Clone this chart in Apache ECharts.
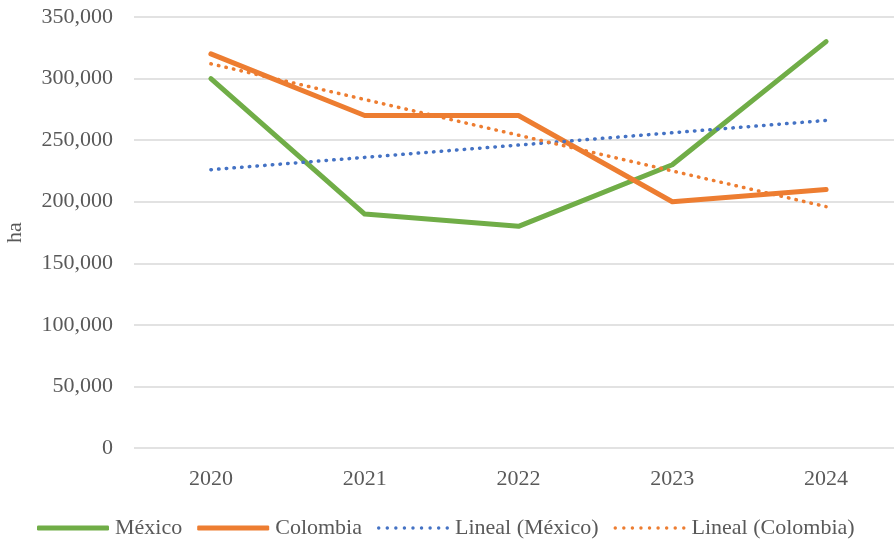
<!DOCTYPE html>
<html>
<head>
<meta charset="utf-8">
<script src="https://cdn.jsdelivr.net/npm/echarts@6/dist/echarts.min.js"></script>
<style>
  html, body { margin: 0; padding: 0; background: #fff; }
  #main { width: 894px; height: 542px; }
</style>
</head>
<body>
<div id="main"></div>
<script>
// data
var years = ['2020', '2021', '2022', '2023', '2024'];
var mexico = [300000, 190000, 180000, 230000, 330000];
var colombia = [320000, 270000, 270000, 200000, 210000];
var trendMexico = [226000, 236000, 246000, 256000, 266000];
var trendColombia = [312000, 283000, 254000, 225000, 196000];

var textColor = '#595959';
var font = 'Liberation Serif';

var chart = echarts.init(document.getElementById('main'));
var dots = function (color) {
  return { color: color, width: 3.5, type: [0.5, 7.2], cap: 'round' };
};

// legend icon: a row of small round dots
var dotIcon = 'path://';
for (var i = 0; i < 9; i++) {
  var cx = 1.6 + i * 7.9;
  dotIcon += 'M' + (cx - 1.6) + ' 1.6a1.6 1.6 0 1 0 3.2 0a1.6 1.6 0 1 0 -3.2 0z';
}

var option = {
  animation: false,
  textStyle: { fontFamily: font },
  grid: { left: 134, right: -9, top: 17, bottom: 94, outerBoundsMode: 'none' },
  legend: {
    bottom: -2,
    left: 32,
    itemWidth: 72,
    itemHeight: 5,
    itemGap: 15,
    symbolKeepAspect: true,
    textStyle: { color: textColor, fontSize: 22, fontFamily: font, padding: [0, 0, 0, 1] },
    data: [
      { name: 'México', icon: 'roundRect' },
      { name: 'Colombia', icon: 'roundRect' },
      { name: 'Lineal (México)', icon: dotIcon },
      { name: 'Lineal (Colombia)', icon: dotIcon }
    ]
  },
  xAxis: {
    type: 'category',
    data: years,
    boundaryGap: true,
    axisLine: { show: false },
    axisTick: { show: false },
    axisLabel: { color: textColor, fontSize: 22, margin: 20 }
  },
  yAxis: {
    type: 'value',
    min: 0,
    max: 350000,
    interval: 50000,
    name: 'ha',
    nameLocation: 'middle',
    nameGap: 108,
    nameTextStyle: { color: textColor, fontSize: 22, fontFamily: font },
    axisLine: { show: false },
    axisTick: { show: false },
    splitLine: { lineStyle: { color: '#d9d9d9', width: 1.5 } },
    axisLabel: {
      color: textColor,
      fontSize: 22,
      margin: 21,
      formatter: function (v) { return v.toLocaleString('en-US'); }
    }
  },
  series: [
    {
      name: 'México', type: 'line', data: mexico, symbol: 'none',
      lineStyle: { color: '#70AD47', width: 5, cap: 'round', join: 'round' },
      itemStyle: { color: '#70AD47' }
    },
    {
      name: 'Colombia', type: 'line', data: colombia, symbol: 'none',
      lineStyle: { color: '#ED7D31', width: 5, cap: 'round', join: 'round' },
      itemStyle: { color: '#ED7D31' }
    },
    {
      name: 'Lineal (México)', type: 'line', data: trendMexico, symbol: 'none',
      lineStyle: dots('#4472C4'),
      itemStyle: { color: '#4472C4' }
    },
    {
      name: 'Lineal (Colombia)', type: 'line', data: trendColombia, symbol: 'none',
      lineStyle: dots('#ED7D31'),
      itemStyle: { color: '#ED7D31' }
    }
  ]
};

chart.setOption(option);
</script>
</body>
</html>
